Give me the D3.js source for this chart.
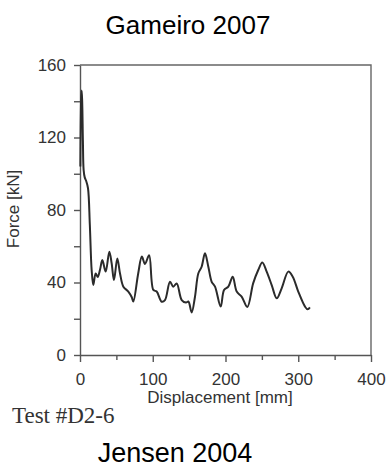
<!DOCTYPE html>
<html>
<head>
<meta charset="utf-8">
<script src="https://cdn.jsdelivr.net/npm/d3@7"></script>
<style>
  body { margin: 0; background: #fff; }
  svg { display: block; }
  .axis path, .axis line { stroke: #555; stroke-width: 1.4; }
  .axis text { font-family: "Liberation Sans", Arial, sans-serif; font-size: 17px; fill: #333; }
</style>
</head>
<body>
<div id="chart"></div>
<script>
// dữ liệu (Displacement mm, Force kN)
var displacement = [0.5, 1.5, 2.3, 3, 4, 5, 6.5, 8.5, 11, 13.5, 16, 18.3, 21.5, 24.3, 27.5, 30.7, 35.3, 40.3, 43.5, 46.7, 51.3, 55, 59.6, 66.4, 71, 73.3, 80, 85, 89.3, 95, 100.8, 105.4, 112.3, 116.8, 123.7, 128.2, 132.9, 139.8, 145.7, 149, 153.5, 158, 162.6, 167.2, 171.8, 176.4, 181, 185.6, 193.4, 198, 203.9, 209.9, 215.4, 222.2, 230, 238, 245, 250.6, 256.6, 263.5, 270.4, 277.2, 286.4, 292.4, 300, 309.3, 313, 316];
var force = [104, 140, 146, 140, 118, 102, 98, 96, 92, 72, 47, 38.6, 45, 43, 47, 52.4, 46, 57, 50.6, 41.4, 53.3, 45, 37.7, 35, 32, 29.5, 45, 54.3, 50.2, 55, 35.9, 35, 29.4, 30.3, 40.4, 37.7, 39.5, 30.3, 28.9, 29.5, 23.5, 32, 45, 48.7, 56.1, 48.7, 40.4, 37.7, 26.7, 35.9, 37.7, 43.2, 35, 32.2, 26.5, 39.5, 46.9, 51, 46, 38.6, 31.3, 36.8, 46, 43.2, 35, 26.7, 25.2, 26.3];
var xMajor = [0, 100, 200, 300, 400];
var xMinor = [50, 150, 250, 350];
var yMajor = [0, 40, 80, 120, 160];
var yMinor = [20, 60, 100, 140];

var width = 386, height = 471;
var plotLeft = 80, plotRight = 371, plotTop = 65, plotBottom = 355;

var svg = d3.select("#chart").append("svg")
  .attr("width", width)
  .attr("height", height);

var x = d3.scaleLinear().domain([0, 400]).range([plotLeft, plotRight]);
var y = d3.scaleLinear().domain([0, 160]).range([plotBottom, plotTop]);

// khung trên và phải
svg.append("path")
  .attr("d", "M" + x(0) + "," + y(160) + "H" + x(400) + "V" + y(0))
  .attr("fill", "none")
  .attr("stroke", "#666")
  .attr("stroke-width", 1.4);

// trục X
svg.append("g").attr("class", "axis")
  .attr("transform", "translate(0," + plotBottom + ")")
  .call(d3.axisBottom(x).tickValues(xMinor).tickSize(5).tickFormat(""))
  .call(function(g) { g.select(".domain").remove(); });
svg.append("g").attr("class", "axis")
  .attr("transform", "translate(0," + plotBottom + ")")
  .call(d3.axisBottom(x).tickValues(xMajor).tickSize(7).tickSizeOuter(0).tickPadding(11));

// trục Y
svg.append("g").attr("class", "axis")
  .attr("transform", "translate(" + plotLeft + ",0)")
  .call(d3.axisLeft(y).tickValues(yMinor).tickSize(6).tickFormat(""))
  .call(function(g) { g.select(".domain").remove(); });
svg.append("g").attr("class", "axis")
  .attr("transform", "translate(" + plotLeft + ",0)")
  .call(d3.axisLeft(y).tickValues(yMajor).tickSize(6).tickSizeOuter(0).tickPadding(8));

// đường dữ liệu
var line = d3.line()
  .x(function(d, i) { return x(displacement[i]); })
  .y(function(d) { return y(d); })
  .curve(d3.curveCatmullRom.alpha(0.5));

svg.append("path")
  .datum(force)
  .attr("d", line)
  .attr("fill", "none")
  .attr("stroke", "#2b2b2b")
  .attr("stroke-width", 2)
  .attr("stroke-linejoin", "round");

// nhãn trục
svg.append("text")
  .attr("x", 220).attr("y", 403)
  .attr("text-anchor", "middle")
  .style("font-family", "'Liberation Sans', Arial, sans-serif")
  .style("font-size", "17px").style("fill", "#333")
  .text("Displacement [mm]");

svg.append("text")
  .attr("transform", "translate(19,209) rotate(-90)")
  .attr("text-anchor", "middle")
  .style("font-family", "'Liberation Sans', Arial, sans-serif")
  .style("font-size", "17px").style("fill", "#333")
  .text("Force [kN]");

// tiêu đề
svg.append("text")
  .attr("x", 188).attr("y", 34)
  .attr("text-anchor", "middle")
  .style("font-family", "'Liberation Sans', Arial, sans-serif")
  .style("font-size", "26px").style("fill", "#000")
  .text("Gameiro 2007");

svg.append("text")
  .attr("x", 12).attr("y", 423)
  .style("font-family", "'Liberation Serif', 'Times New Roman', serif")
  .style("font-size", "23px").style("fill", "#333")
  .text("Test #D2-6");

svg.append("text")
  .attr("x", 175).attr("y", 462)
  .attr("text-anchor", "middle")
  .style("font-family", "'Liberation Sans', Arial, sans-serif")
  .style("font-size", "27px").style("fill", "#000")
  .text("Jensen 2004");
</script>
</body>
</html>
